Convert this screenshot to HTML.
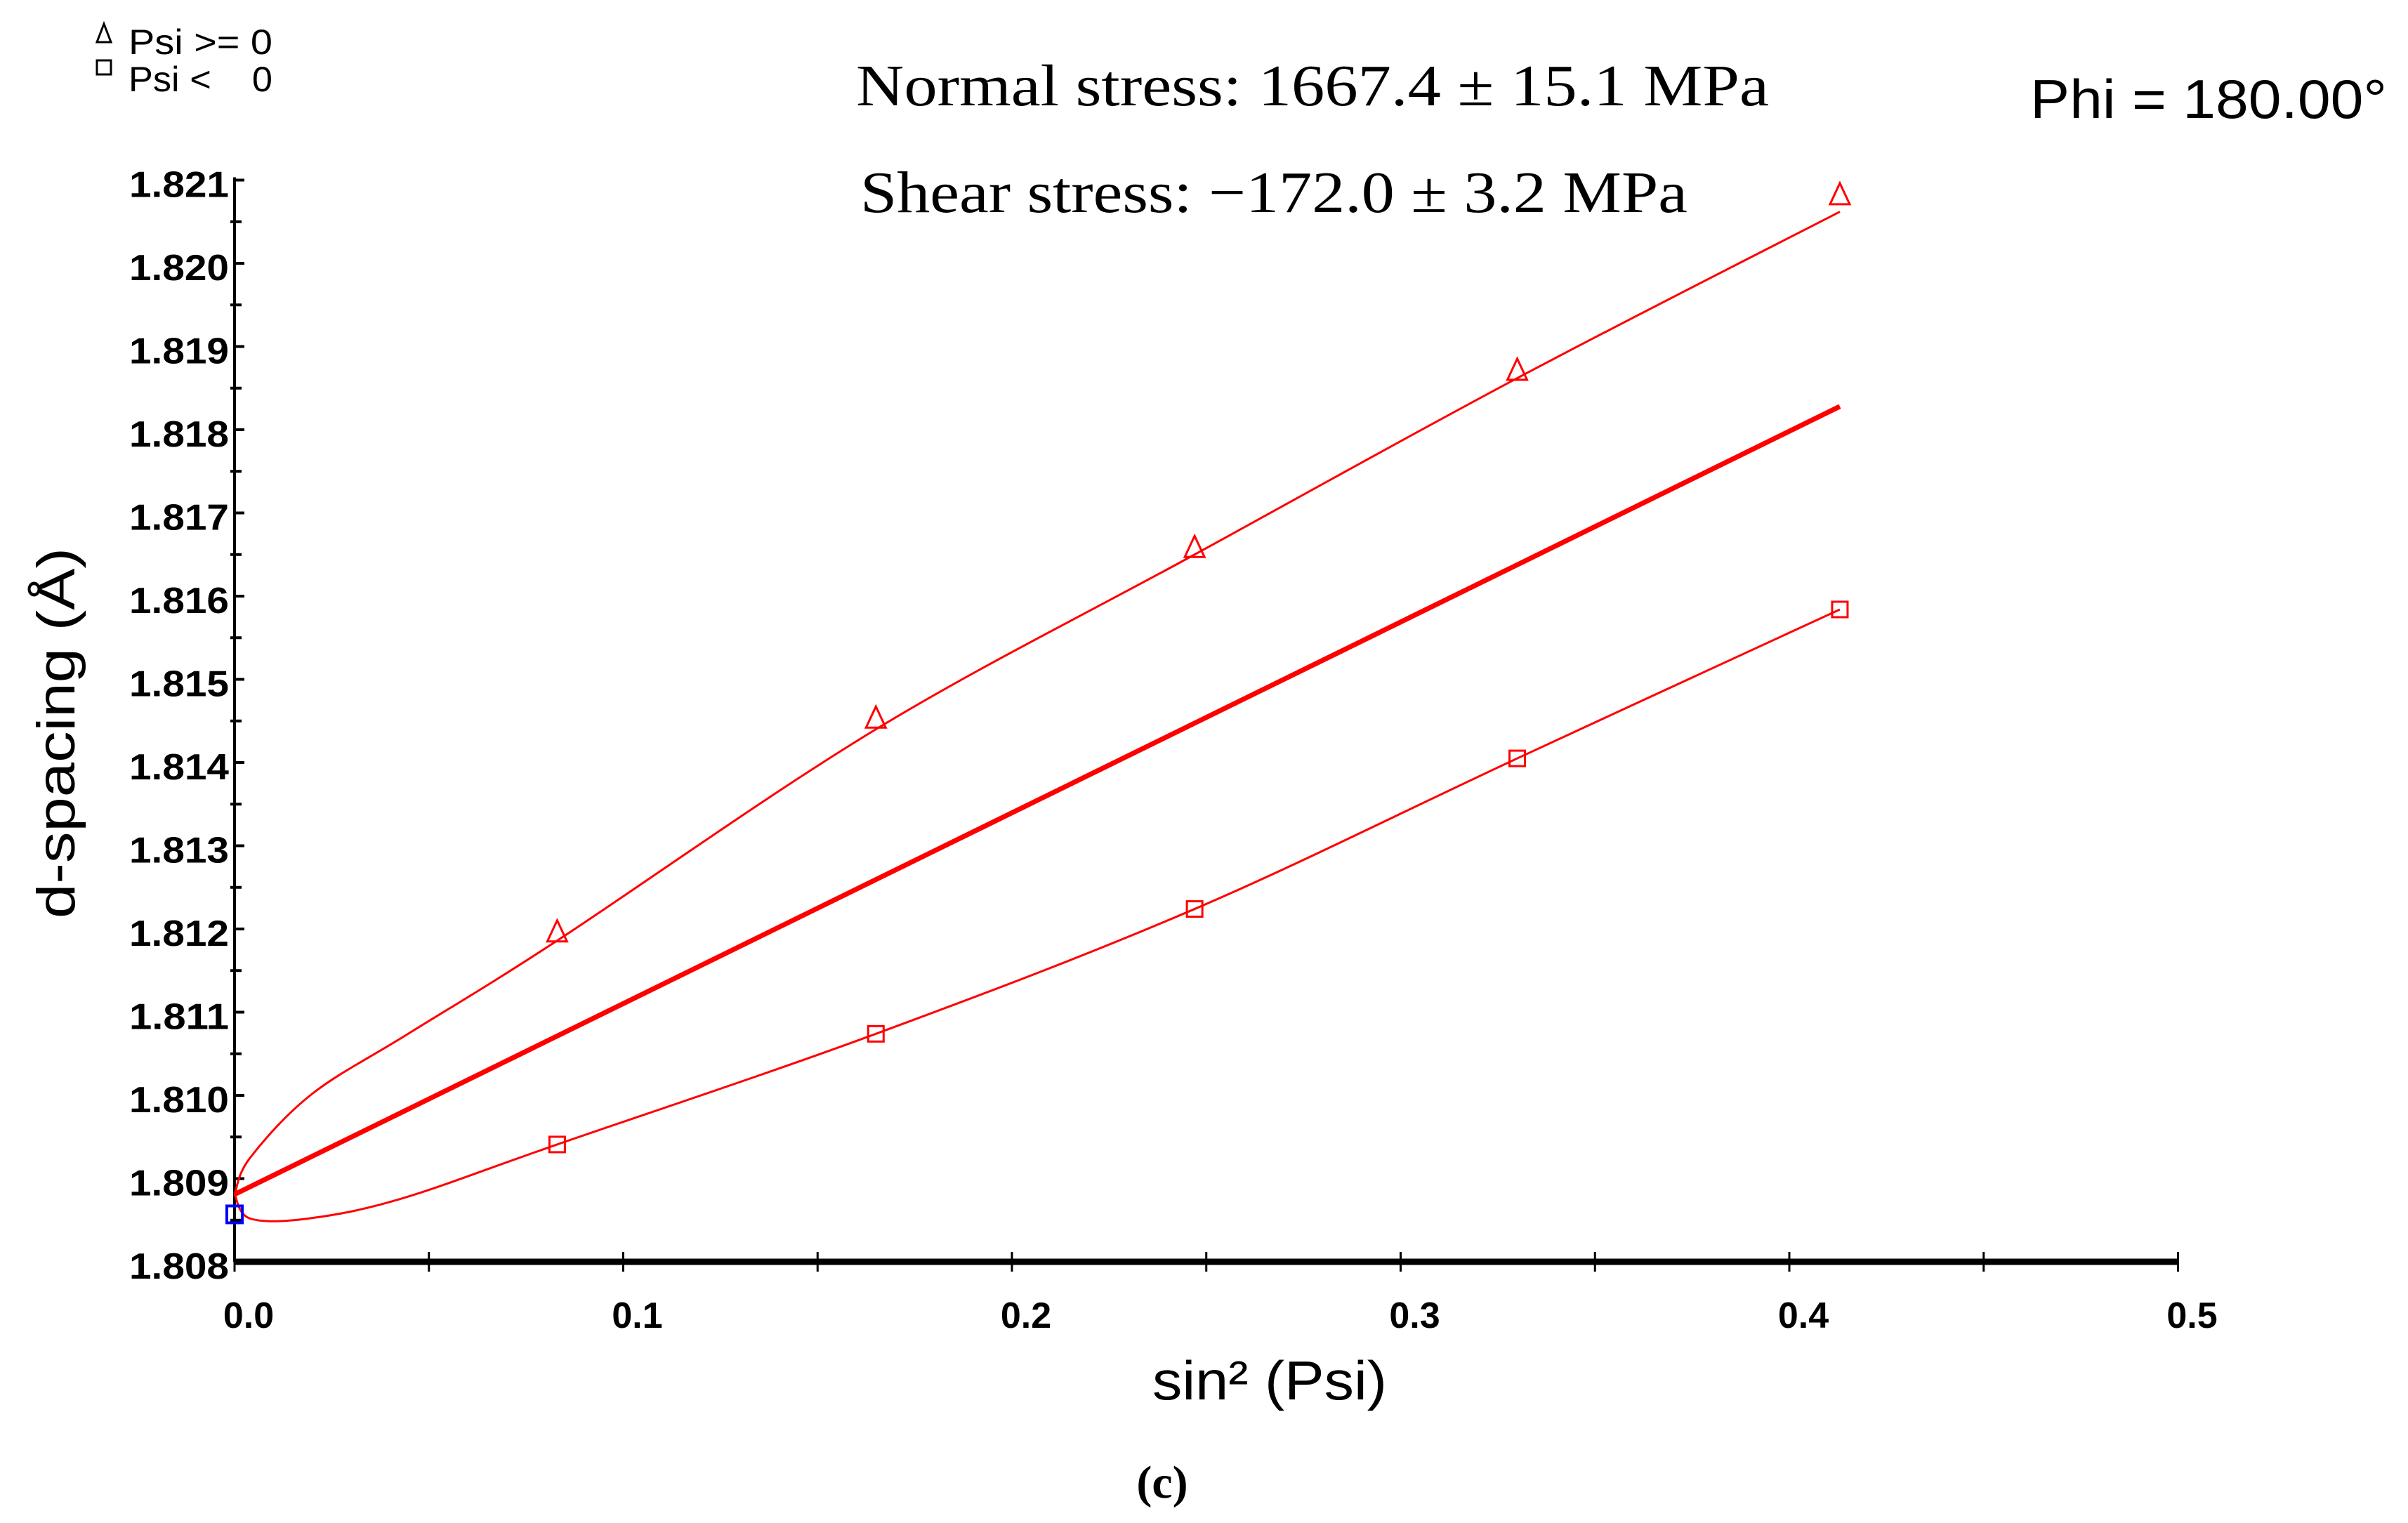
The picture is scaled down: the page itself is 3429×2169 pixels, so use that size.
<!DOCTYPE html>
<html><head><meta charset="utf-8"><style>
html,body{margin:0;padding:0;background:#fff;}
svg{display:block;}
</style></head><body>
<svg id="chart" width="3429" height="2169" viewBox="0 0 3429 2169" xmlns="http://www.w3.org/2000/svg">
<g id="legend">
  <path d="M138,60 L148,34 L158,60 Z" fill="none" stroke="#000" stroke-width="3"/>
  <text x="183" y="77" font-family="Liberation Sans, sans-serif" font-size="50" textLength="205" lengthAdjust="spacingAndGlyphs">Psi &gt;= 0</text>
  <rect x="138" y="86" width="20" height="20" fill="none" stroke="#000" stroke-width="3"/>
  <text x="183" y="130" font-family="Liberation Sans, sans-serif" font-size="50" xml:space="preserve" textLength="205" lengthAdjust="spacingAndGlyphs">Psi &lt;    0</text>
</g>
<text x="1219" y="150" font-family="Liberation Serif, serif" font-size="84" textLength="1300" lengthAdjust="spacingAndGlyphs">Normal stress: 1667.4 ± 15.1 MPa</text>
<text x="1225" y="302" font-family="Liberation Serif, serif" font-size="84" textLength="1178" lengthAdjust="spacingAndGlyphs">Shear stress: −172.0 ± 3.2 MPa</text>
<text x="2891" y="168" font-family="Liberation Sans, sans-serif" font-size="78" textLength="508" lengthAdjust="spacingAndGlyphs">Phi = 180.00°</text>
<text transform="translate(106,1044) rotate(-90)" text-anchor="middle" font-family="Liberation Sans, sans-serif" font-size="76" textLength="528" lengthAdjust="spacingAndGlyphs">d-spacing (Å)</text>
<text x="1808" y="1993" text-anchor="middle" font-family="Liberation Sans, sans-serif" font-size="78" textLength="334" lengthAdjust="spacingAndGlyphs">sin² (Psi)</text>
<text x="1655" y="2133" text-anchor="middle" font-family="Liberation Serif, serif" font-weight="bold" font-size="66">(c)</text>
<g id="axes"></g>
<g id="series"></g>
</svg>
<script>
const xTicks = [0.0, 0.1, 0.2, 0.3, 0.4, 0.5];
const xTickLabels = ["0.0", "0.1", "0.2", "0.3", "0.4", "0.5"];
const yTicks = [1.808, 1.809, 1.810, 1.811, 1.812, 1.813, 1.814, 1.815, 1.816, 1.817, 1.818, 1.819, 1.820, 1.821];
const yTickLabels = ["1.808","1.809","1.810","1.811","1.812","1.813","1.814","1.815","1.816","1.817","1.818","1.819","1.820","1.821"];
const posX = [0.083, 0.165, 0.247, 0.330, 0.413];
const posY = [1.81196, 1.81453, 1.81658, 1.81871, 1.82082];
const negX = [0.083, 0.165, 0.247, 0.330, 0.413];
const negY = [1.80941, 1.81074, 1.81224, 1.81405, 1.81584];
const zeroX = [0.0];
const zeroY = [1.80857];
const posFitX = [0.0, 0.004, 0.02, 0.045, 0.083, 0.165, 0.247, 0.330, 0.413];
const posFitY = [1.80881, 1.80925, 1.81002, 1.81075, 1.81186, 1.81440, 1.81650, 1.81862, 1.82062];
const negFitX = [0.0, 0.004, 0.019, 0.043, 0.083, 0.165, 0.247, 0.330, 0.413];
const negFitY = [1.80881, 1.80852, 1.80852, 1.80876, 1.80941, 1.81074, 1.81224, 1.81405, 1.81584];
const meanX = [0.0, 0.413];
const meanY = [1.80881, 1.81828];

const X0 = 334, XPX = 5535;
const Y0 = 1797, YPX = 118500;
function sx(v){ return X0 + v * XPX; }
function sy(v){ return Y0 - (v - 1.808) * YPX; }
const NS = "http://www.w3.org/2000/svg";
function mk(tag, attrs, parent){ const e = document.createElementNS(NS, tag); for (const k in attrs) e.setAttribute(k, attrs[k]); parent.appendChild(e); return e; }
const axes = document.getElementById('axes');
const series = document.getElementById('series');

let yl = mk('line', {x1: X0, y1: sy(1.821) - 4, x2: X0, y2: Y0, stroke: '#000', 'stroke-width': 4}, axes);


let xl = mk('line', {x1: X0, y1: Y0, x2: sx(0.5), y2: Y0, stroke: '#000', 'stroke-width': 9}, axes);



yTicks.forEach((v, i) => {
  let t = mk('line', {x1: X0, y1: sy(v), x2: X0 + 14, y2: sy(v), stroke: '#000', 'stroke-width': 4}, axes);
  
  
  if (i < yTicks.length - 1) {
    let m = mk('line', {x1: X0 - 6, y1: sy(v + 0.0005), x2: X0 + 10, y2: sy(v + 0.0005), stroke: '#000', 'stroke-width': 4}, axes);
    
    
  }
  let lb = mk('text', {x: X0 - 8, y: sy(v) + 24, 'text-anchor': 'end', 'font-family': 'Liberation Sans, sans-serif', 'font-weight': 'bold', 'font-size': 52, textLength: 142, lengthAdjust: 'spacingAndGlyphs'}, axes);
  lb.textContent = yTickLabels[i];
  
  
});
xTicks.forEach((v, i) => {
  let t = mk('line', {x1: sx(v), y1: Y0 - 14, x2: sx(v), y2: Y0 + 14, stroke: '#000', 'stroke-width': 3}, axes);
  
  
  if (i < xTicks.length - 1) {
    let m = mk('line', {x1: sx(v + 0.05), y1: Y0 - 14, x2: sx(v + 0.05), y2: Y0 + 14, stroke: '#000', 'stroke-width': 3}, axes);
    
    
  }
  let lb = mk('text', {x: sx(v) + 20, y: Y0 + 94, 'text-anchor': 'middle', 'font-family': 'Liberation Sans, sans-serif', 'font-weight': 'bold', 'font-size': 52}, axes);
  lb.textContent = xTickLabels[i];
  
  
});

function smoothPath(xs, ys){
  const p = xs.map((x, i) => [sx(x), sy(ys[i])]);
  let d = 'M' + p[0][0] + ',' + p[0][1];
  for (let i = 0; i < p.length - 1; i++) {
    const p0 = p[i - 1] || p[i], p1 = p[i], p2 = p[i + 1], p3 = p[i + 2] || p2;
    const c1 = [p1[0] + (p2[0] - p0[0]) / 6, p1[1] + (p2[1] - p0[1]) / 6];
    const c2 = [p2[0] - (p3[0] - p1[0]) / 6, p2[1] - (p3[1] - p1[1]) / 6];
    d += ' C' + c1 + ' ' + c2 + ' ' + p2;
  }
  return d;
}
let pf = mk('path', {d: smoothPath(posFitX, posFitY), fill: 'none', stroke: '#ff0000', 'stroke-width': 3}, series);


let nf = mk('path', {d: smoothPath(negFitX, negFitY), fill: 'none', stroke: '#ff0000', 'stroke-width': 3}, series);


let ml = mk('line', {x1: sx(meanX[0]), y1: sy(meanY[0]), x2: sx(meanX[1]), y2: sy(meanY[1]), stroke: '#ff0000', 'stroke-width': 7}, series);



posX.forEach((x, i) => {
  const cx = sx(x), cy = sy(posY[i]);
  let t = mk('path', {d: `M${cx-14},${cy+13} L${cx},${cy-17} L${cx+14},${cy+13} Z`, fill: 'none', stroke: '#ff0000', 'stroke-width': 3}, series);
  
  
});
negX.forEach((x, i) => {
  const cx = sx(x), cy = sy(negY[i]);
  let r = mk('rect', {x: cx - 11, y: cy - 11, width: 22, height: 22, fill: 'none', stroke: '#ff0000', 'stroke-width': 3}, series);
  
  
});
zeroX.forEach((x, i) => {
  const cx = sx(x), cy = sy(zeroY[i]);
  let r = mk('rect', {x: cx - 11, y: cy - 12, width: 22, height: 24, fill: 'none', stroke: '#0000ff', 'stroke-width': 4}, series);
  
  
});
</script>
</body></html>
